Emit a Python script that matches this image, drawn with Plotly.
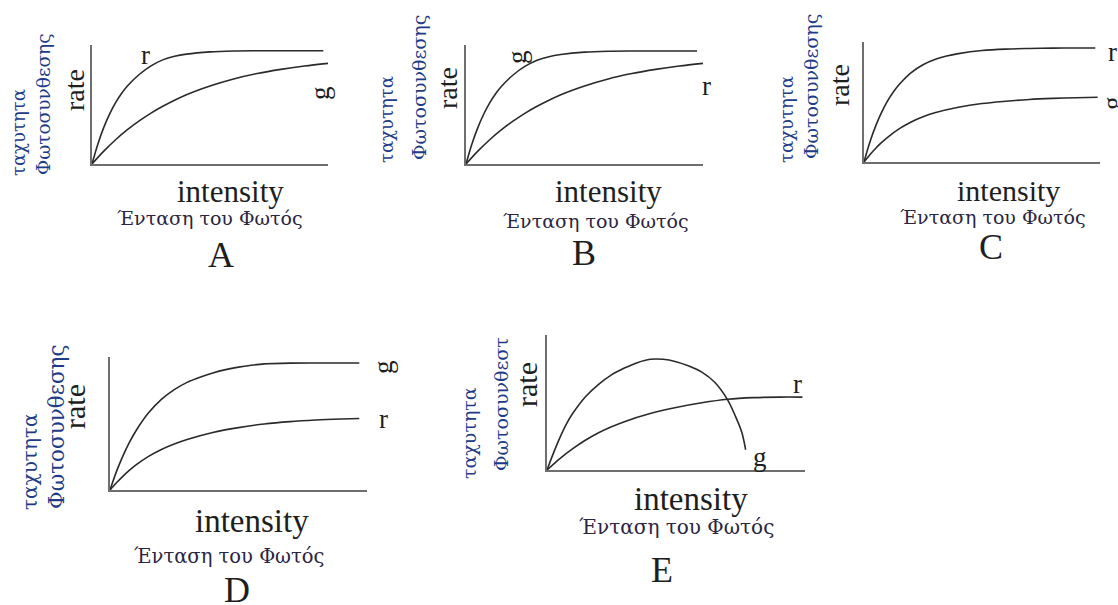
import plotly.graph_objects as go

W, H = 1118, 605
SERIF = "Liberation Serif"
GREEK_SERIF = "DejaVu Serif"
INK = "#1e1e1e"
AXIS = "#6e6e6e"
CURVE = "#2a2a2a"
BLUE = "#1d3b86"
DARK_GREEK = "#2a2540"

# Panel frames in page pixels: (left, top, right, bottom) of the axis corner box
frames = {
    "A": (92, 45, 328, 164),
    "B": (466, 45, 703, 164),
    "C": (864, 42, 1100, 162),
    "D": (110, 357, 367, 490),
    "E": (547, 335, 805, 470),
}

# Light intensity (0-100) and photosynthesis rate (0-100) for each curve
a_r_x = [0, 2.5, 5, 7.5, 10, 12.5, 15, 20, 25, 30, 35, 40, 50, 60, 70, 80, 90, 98]
a_r_y = [0, 16.9, 30.8, 42.2, 51.6, 59.3, 65.6, 75.2, 82.5, 87.5, 90.5, 92.3, 94.2, 95.0, 95.2, 95.2, 95.2, 95.2]
a_g_x = [0, 5, 10, 15, 20, 25, 30, 40, 50, 60, 70, 80, 90, 100]
a_g_y = [0, 10.8, 20.4, 28.8, 36.2, 42.8, 48.5, 58.2, 65.6, 71.5, 76.0, 79.5, 82.3, 84.6]

b_g_x = [0, 2.5, 5, 7.5, 10, 12.5, 15, 20, 25, 30, 35, 40, 50, 60, 70, 80, 90, 97.5]
b_g_y = [0, 16.8, 30.6, 42.0, 51.4, 59.1, 65.4, 75.0, 82.2, 87.2, 90.2, 92.0, 94.0, 94.8, 95.0, 95.0, 95.0, 95.0]
b_r_x = [0, 5, 10, 15, 20, 25, 30, 40, 50, 60, 70, 80, 90, 100]
b_r_y = [0, 10.8, 20.4, 28.8, 36.2, 42.8, 48.5, 58.2, 65.6, 71.5, 76.0, 79.5, 82.3, 84.6]

c_r_x = [0, 2.5, 5, 7.5, 10, 12.5, 15, 20, 25, 30, 35, 40, 50, 60, 70, 80, 90, 98]
c_r_y = [0, 16.6, 30.3, 41.5, 50.9, 58.6, 64.8, 74.5, 81.1, 85.4, 88.3, 90.3, 92.9, 94.1, 94.6, 94.9, 95.0, 95.0]
c_g_x = [0, 2.5, 5, 7.5, 10, 15, 20, 25, 30, 40, 50, 60, 70, 80, 90, 99]
c_g_y = [0, 6.1, 11.5, 16.3, 20.6, 27.8, 33.4, 37.7, 41.0, 45.6, 48.7, 50.6, 52.1, 53.0, 53.6, 54.0]

d_g_x = [0, 2.5, 5, 7.5, 10, 15, 20, 25, 30, 35, 40, 45, 50, 55, 60, 70, 80, 97]
d_g_y = [0, 13.8, 25.5, 35.6, 44.2, 58.0, 68.1, 75.5, 80.9, 84.8, 88.0, 90.5, 92.4, 93.8, 94.8, 95.4, 95.5, 95.5]
d_r_x = [0, 2.5, 5, 7.5, 10, 15, 20, 25, 30, 40, 50, 60, 70, 80, 90, 97]
d_r_y = [0, 5.4, 10.3, 14.7, 18.7, 25.3, 30.5, 34.6, 38.0, 43.3, 46.9, 49.6, 51.4, 52.6, 53.4, 53.8]

e_g_x = [0, 2.5, 5, 7.5, 10, 15, 20, 25, 30, 35, 40, 45, 50, 55, 60, 65, 70, 73, 75.5, 77]
e_g_y = [0, 12.5, 24, 34, 42, 54.5, 63.5, 70.5, 75.5, 79.5, 82, 82, 80.2, 77, 72.5, 65, 52, 40, 28, 15]
e_r_x = [0, 5, 10, 15, 20, 25, 30, 40, 50, 60, 70, 80, 90, 99]
e_r_y = [0, 8.5, 15.8, 22.2, 27.6, 32.0, 35.8, 41.8, 46.3, 49.8, 52.4, 53.6, 54.0, 54.0]

curves = {
    "A": [(a_r_x, a_r_y), (a_g_x, a_g_y)],
    "B": [(b_g_x, b_g_y), (b_r_x, b_r_y)],
    "C": [(c_r_x, c_r_y), (c_g_x, c_g_y)],
    "D": [(d_g_x, d_g_y), (d_r_x, d_r_y)],
    "E": [(e_g_x, e_g_y), (e_r_x, e_r_y)],
}

# Axis wording
rate_word = "rate"
x_word = "intensity"
x_word_gr = "Ένταση του Φωτός"
y_word_gr1 = "ταχυτητα"
y_word_gr2 = {"A": "Φωτοσυνθεσης", "B": "Φωτοσυνθεσης", "C": "Φωτοσυνθεσης",
              "D": "Φωτοσυνθεσης", "E": "Φωτοσυνθεστ"}

# Text placements (page pixel centres) per panel
text_pos = {
    #      ταχυτητα    Φωτοσ.      rate        intensity    Ένταση       letter
    "A": [(18, 133), (43, 104), (75, 90), (230, 191), (210, 218), (221, 255)],
    "B": [(386, 120), (419, 88), (447, 88), (608, 191), (596, 221), (584, 253)],
    "C": [(786, 120), (811, 87), (840, 85), (1008, 190), (993, 217), (991, 247)],
    "D": [(30, 462), (56, 427), (74, 407), (252, 521), (229, 556), (237, 590)],
    "E": [(469, 433), (501, 404), (526, 385), (691, 499), (676, 527), (662, 570)],
}
sizes = {
    "A": dict(gr=18, gr2=18.5, rate=28, xw=31, xgr=19, letter=36),
    "B": dict(gr=18, gr2=19, rate=28, xw=31, xgr=19, letter=36),
    "C": dict(gr=18, gr2=19, rate=28, xw=30, xgr=19, letter=36),
    "D": dict(gr=20, gr2=21.5, rate=30, xw=33, xgr=19.5, letter=36),
    "E": dict(gr=19, gr2=19, rate=30, xw=33, xgr=20, letter=36),
}

# Curve name tags: (text, x, y, angle)
tags = {
    "A": [("r", 145, 55, 0), ("g", 320, 93, -90)],
    "B": [("g", 517, 57, -90), ("r", 706, 86, 0)],
    "C": [("r", 1112, 52, 0), ("g", 1112, 103, -90)],
    "D": [("g", 383, 367, -90), ("r", 383, 419, 0)],
    "E": [("r", 797, 384, 0), ("g", 760, 457, 0)],
}


def px(x):
    return x / W


def py(y):
    return 1 - y / H


fig = go.Figure()
layout_axes = {}
annotations = []

for i, (name, (l, t, r, b)) in enumerate(frames.items(), start=1):
    xa = "xaxis" if i == 1 else f"xaxis{i}"
    ya = "yaxis" if i == 1 else f"yaxis{i}"
    xr = "x" if i == 1 else f"x{i}"
    yr = "y" if i == 1 else f"y{i}"
    common = dict(showline=True, linecolor=AXIS, linewidth=2, showgrid=False,
                  zeroline=False, showticklabels=False, ticks="", range=[0, 100],
                  fixedrange=True)
    layout_axes[xa] = dict(domain=[px(l), px(r)], anchor=yr, **common)
    layout_axes[ya] = dict(domain=[py(b), py(t)], anchor=xr, **common)

    for cx, cy in curves[name]:
        fig.add_trace(go.Scatter(x=cx, y=cy, xaxis=xr, yaxis=yr, mode="lines",
                                 line=dict(color=CURVE, width=1.6, shape="spline",
                                           smoothing=0.9),
                                 hoverinfo="skip", showlegend=False))

    pos = text_pos[name]
    s = sizes[name]
    items = [
        (y_word_gr1, pos[0], s["gr"], BLUE, -90, GREEK_SERIF),
        (y_word_gr2[name], pos[1], s["gr2"], BLUE, -90, GREEK_SERIF),
        (rate_word, pos[2], s["rate"], INK, -90, SERIF),
        (x_word, pos[3], s["xw"], INK, 0, SERIF),
        (x_word_gr, pos[4], s["xgr"], DARK_GREEK, 0, GREEK_SERIF),
        (name, pos[5], s["letter"], INK, 0, SERIF),
    ]
    for txt, (tx, ty), fs, col, ang, fam in items:
        annotations.append(dict(text=txt, x=px(tx), y=py(ty), xref="paper", yref="paper",
                                showarrow=False, textangle=ang, xanchor="center",
                                yanchor="middle",
                                font=dict(family=fam, size=fs, color=col)))
    for txt, tx, ty, ang in tags[name]:
        annotations.append(dict(text=txt, x=px(tx), y=py(ty), xref="paper", yref="paper",
                                showarrow=False, textangle=ang, xanchor="center",
                                yanchor="middle",
                                font=dict(family=SERIF, size=27, color=INK)))

fig.update_layout(width=W, height=H, margin=dict(l=0, r=0, t=0, b=0),
                  paper_bgcolor="white", plot_bgcolor="white",
                  annotations=annotations, **layout_axes)

fig.write_html("out.html")
